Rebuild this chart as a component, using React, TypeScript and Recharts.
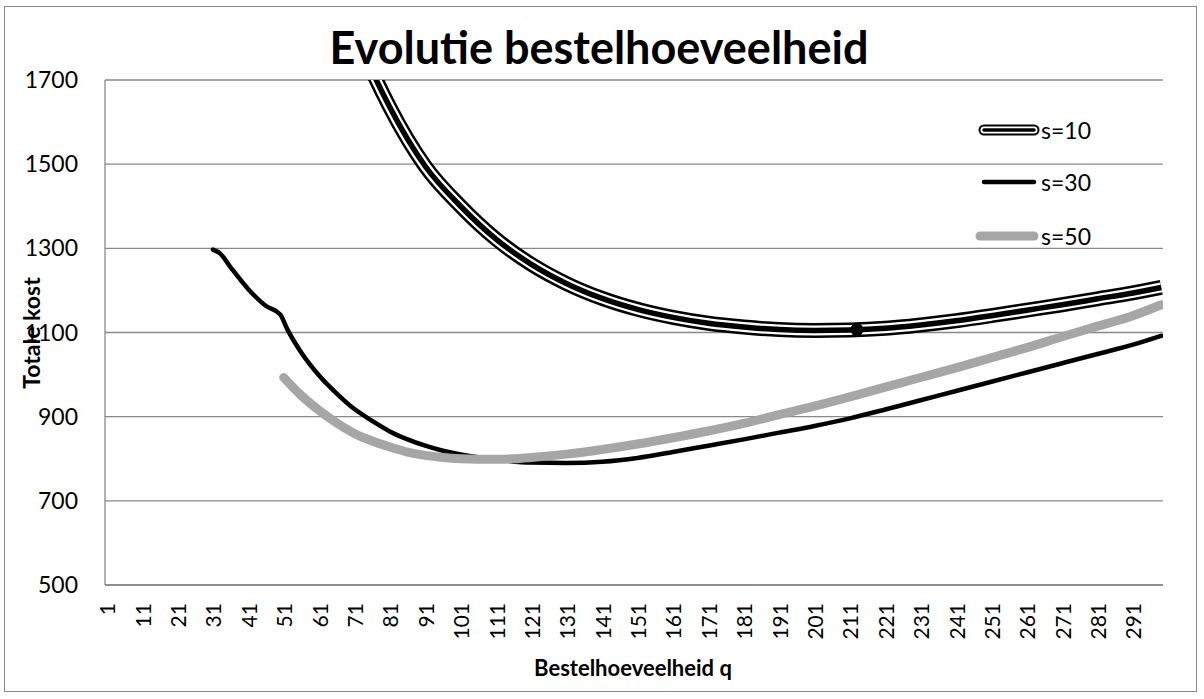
import React from 'react';
import { LineChart, Line, XAxis, YAxis, CartesianGrid, ReferenceDot } from 'recharts';

// Order quantity q (x) and total cost (y) for each series
const Q_S10 = [61, 71, 81, 91, 101, 111, 121, 131, 141, 151, 161, 171, 181, 191, 201, 211, 221, 231, 241, 251, 261, 271, 281, 291, 299];
const COST_S10 = [2070, 1820, 1635, 1495, 1400, 1322, 1262, 1216, 1181, 1155, 1136, 1122, 1113, 1107, 1105, 1106, 1110, 1118, 1128, 1140, 1153, 1166, 1180, 1194, 1207];

const Q_S30 = [31, 33, 36, 41, 46, 50, 52, 56, 61, 66, 71, 76, 81, 86, 91, 96, 101, 111, 121, 131, 141, 151, 161, 171, 181, 191, 201, 211, 221, 231, 241, 251, 261, 271, 281, 291, 299];
const COST_S30 = [1297, 1288, 1255, 1203, 1163, 1143, 1108, 1052, 998, 955, 918, 890, 865, 846, 831, 819, 810, 798, 791, 790, 793, 802, 816, 831, 846, 862, 878, 896, 917, 939, 961, 983, 1005, 1027, 1049, 1071, 1092];

const Q_S50 = [51, 56, 61, 66, 71, 76, 81, 86, 91, 96, 101, 106, 111, 116, 121, 131, 141, 151, 161, 171, 181, 191, 201, 211, 221, 231, 241, 251, 261, 271, 281, 291, 299];
const COST_S50 = [993, 950, 915, 885, 860, 842, 828, 816, 808, 803, 800, 799, 799, 800, 803, 811, 822, 835, 850, 866, 884, 905, 925, 947, 970, 993, 1016, 1040, 1064, 1090, 1115, 1140, 1166];

// Highlighted point on the s=10 curve
const MARK_Q = 213;
const MARK_COST = 1107;

const X_TICKS = [1, 11, 21, 31, 41, 51, 61, 71, 81, 91, 101, 111, 121, 131, 141, 151, 161, 171, 181, 191, 201, 211, 221, 231, 241, 251, 261, 271, 281, 291];
const Y_TICKS = [500, 700, 900, 1100, 1300, 1500, 1700];

const SERIES_NAMES = ['s=10', 's=30', 's=50'];
const TITLE = 'Evolutie bestelhoeveelheid';
const X_LABEL = 'Bestelhoeveelheid q';
const Y_LABEL = 'Totale kost';

const zip = (qs: number[], vs: number[]) => qs.map((q, i) => ({ q, v: vs[i] }));
const d10 = zip(Q_S10, COST_S10);
const d30 = zip(Q_S30, COST_S30);
const d50 = zip(Q_S50, COST_S50);

const FONT = 'Lato, "Open Sans", sans-serif';
const GRID = '#898989';
const GRAY = '#A6A6A6';

const XTick = (props: any) => {
  const { x, y, payload } = props;
  return (
    <text
      x={x}
      y={y}
      transform={`rotate(-90 ${x} ${y})`}
      textAnchor="end"
      dominantBaseline="central"
      fontSize={21}
      fontFamily={FONT}
      fill="#000"
    >
      {payload.value}
    </text>
  );
};

export default function App() {
  return (
    <div style={{ position: 'absolute', left: 0, top: 0, width: 1204, height: 699, background: '#fff', fontFamily: FONT }}>
      <div style={{ position: 'absolute', left: 4, top: 6, width: 1193, height: 686, border: `1px solid ${GRID}`, boxSizing: 'border-box' }} />
      <div style={{ position: 'absolute', left: 0, top: 0 }}>
        <LineChart width={1204} height={699} margin={{ top: 80, right: 41, bottom: 84, left: 45 }}>
          <CartesianGrid vertical={false} stroke={GRID} strokeWidth={1.3} />
          <XAxis
            type="number"
            dataKey="q"
            domain={[0.5, 299.5]}
            ticks={X_TICKS}
            interval={0}
            allowDataOverflow
            tick={<XTick />}
            tickLine={false}
            tickSize={0}
            tickMargin={18}
            height={30}
            axisLine={{ stroke: GRID, strokeWidth: 1.3 }}
          />
          <YAxis
            type="number"
            domain={[500, 1700]}
            ticks={Y_TICKS}
            interval={0}
            allowDataOverflow
            width={60}
            tickLine={false}
            tickSize={0}
            tickMargin={27}
            tick={{ fontSize: 23, fill: '#000', fontFamily: FONT }}
            axisLine={{ stroke: GRID, strokeWidth: 1.3 }}
          />
          <Line name="s10-outer" data={d10} dataKey="v" type="monotone" stroke="#000" strokeWidth={15} dot={false} isAnimationActive={false} />
          <Line name="s10-gap" data={d10} dataKey="v" type="monotone" stroke="#fff" strokeWidth={10} dot={false} isAnimationActive={false} />
          <Line name="s10-core" data={d10} dataKey="v" type="monotone" stroke="#000" strokeWidth={5.5} dot={false} isAnimationActive={false} />
          <ReferenceDot x={MARK_Q} y={MARK_COST} r={6.5} fill="#000" stroke="none" />
          <Line name={SERIES_NAMES[1]} data={d30} dataKey="v" type="monotone" stroke="#000" strokeWidth={4.5} strokeLinecap="round" dot={false} isAnimationActive={false} />
          <Line name={SERIES_NAMES[2]} data={d50} dataKey="v" type="monotone" stroke={GRAY} strokeWidth={9} strokeLinecap="round" dot={false} isAnimationActive={false} />
        </LineChart>
      </div>
      <svg width={1204} height={699} style={{ position: 'absolute', left: 0, top: 0, pointerEvents: 'none' }}>
        <g>
          <line x1={984} y1={130} x2={1034} y2={130} stroke="#000" strokeWidth={11} strokeLinecap="round" />
          <line x1={984} y1={130} x2={1034} y2={130} stroke="#fff" strokeWidth={7} strokeLinecap="round" />
          <line x1={984} y1={130} x2={1034} y2={130} stroke="#000" strokeWidth={3.5} strokeLinecap="round" />
          <text x={1041} y={130} dominantBaseline="central" fontSize={23} fontFamily={FONT} fill="#000">{SERIES_NAMES[0]}</text>
          <line x1={984} y1={182} x2={1034} y2={182} stroke="#000" strokeWidth={4.5} strokeLinecap="round" />
          <text x={1041} y={182} dominantBaseline="central" fontSize={23} fontFamily={FONT} fill="#000">{SERIES_NAMES[1]}</text>
          <line x1={980} y1={236} x2={1034} y2={236} stroke={GRAY} strokeWidth={9} strokeLinecap="round" />
          <text x={1041} y={236} dominantBaseline="central" fontSize={23} fontFamily={FONT} fill="#000">{SERIES_NAMES[2]}</text>
        </g>
        <text x={599} y={47} textAnchor="middle" dominantBaseline="central" fontSize={45} fontWeight={700} fontFamily={FONT} fill="#000">{TITLE}</text>
        <text x={633} y={667} textAnchor="middle" dominantBaseline="central" fontSize={22} fontWeight={700} fontFamily={FONT} fill="#000">{X_LABEL}</text>
        <text x={31} y={333} transform="rotate(-90 31 333)" textAnchor="middle" dominantBaseline="central" fontSize={23} fontWeight={700} fontFamily={FONT} fill="#000">{Y_LABEL}</text>
      </svg>
    </div>
  );
}
